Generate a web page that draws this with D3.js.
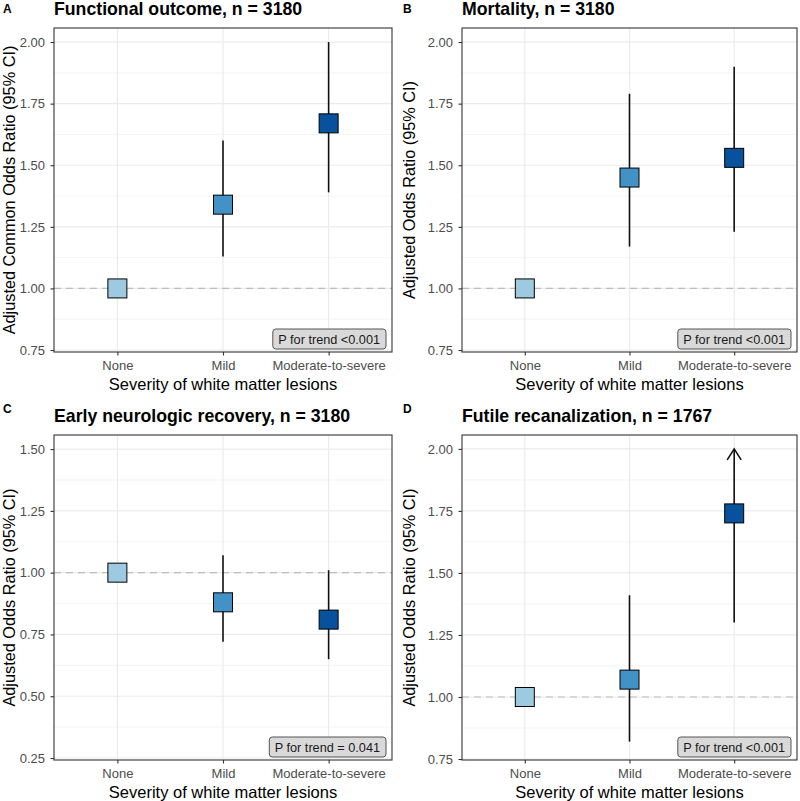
<!DOCTYPE html>
<html>
<head>
<meta charset="utf-8">
<script src="https://cdn.jsdelivr.net/npm/d3@7"></script>
<style>
  html, body { margin: 0; padding: 0; background: #fff; }
  svg { display: block; font-family: "Liberation Sans", Arial, Helvetica, sans-serif; }
</style>
</head>
<body>
<svg id="chart" width="800" height="801"></svg>
<script>
// ---------------- data ----------------
const categories = ["None", "Mild", "Moderate-to-severe"];
const panelLetters = ["A", "B", "C", "D"];
const panelTitles = [
  "Functional outcome, n = 3180",
  "Mortality, n = 3180",
  "Early neurologic recovery, n = 3180",
  "Futile recanalization, n = 1767"
];
const yTitles = [
  "Adjusted Common Odds Ratio (95% CI)",
  "Adjusted Odds Ratio (95% CI)",
  "Adjusted Odds Ratio (95% CI)",
  "Adjusted Odds Ratio (95% CI)"
];
const xTitle = "Severity of white matter lesions";
const trendLabels = ["P for trend <0.001", "P for trend <0.001", "P for trend = 0.041", "P for trend <0.001"];

const estA = [1.00, 1.34, 1.67];
const lowA = [null, 1.13, 1.39];
const highA = [null, 1.60, 2.00];

const estB = [1.00, 1.45, 1.53];
const lowB = [null, 1.17, 1.23];
const highB = [null, 1.79, 1.90];

const estC = [1.00, 0.88, 0.81];
const lowC = [null, 0.72, 0.65];
const highC = [null, 1.07, 1.01];

const estD = [1.00, 1.07, 1.74];
const lowD = [null, 0.82, 1.30];
const highD = [null, 1.41, 2.00];
const truncD = [false, false, true]; // upper CI beyond axis -> arrow

const ticksAB = ["0.75", "1.00", "1.25", "1.50", "1.75", "2.00"];
const ticksC = ["0.25", "0.50", "0.75", "1.00", "1.25", "1.50"];
const ticksD = ["0.75", "1.00", "1.25", "1.50", "1.75", "2.00"];

const domainAB = [0.742, 2.057];
const domainC = [0.242, 1.557];
const domainD = [0.746, 2.056];

const colors = ["#9ECAE1", "#4292C6", "#08519C"];

const panels = [
  { est: estA, low: lowA, high: highA, trunc: [false, false, false], ticks: ticksAB, domain: domainAB },
  { est: estB, low: lowB, high: highB, trunc: [false, false, false], ticks: ticksAB, domain: domainAB },
  { est: estC, low: lowC, high: highC, trunc: [false, false, false], ticks: ticksC, domain: domainC },
  { est: estD, low: lowD, high: highD, trunc: truncD, ticks: ticksD, domain: domainD }
];

// ---------------- layout ----------------
const boxes = [
  { x0: 54, x1: 392, y0: 28, y1: 352, cellX: 0, cellY: 0 },
  { x0: 462, x1: 797, y0: 28, y1: 352, cellX: 400, cellY: 0 },
  { x0: 54, x1: 392, y0: 435, y1: 760, cellX: 0, cellY: 400 },
  { x0: 462, x1: 797, y0: 435, y1: 760, cellX: 400, cellY: 400 }
];

const svg = d3.select("#chart");

panels.forEach((p, i) => {
  const b = boxes[i];
  const g = svg.append("g");

  const x = d3.scalePoint().domain(categories).range([b.x0, b.x1]).padding(0.6);
  const y = d3.scaleLinear().domain(p.domain).range([b.y1, b.y0]);
  const tickVals = p.ticks.map(Number);
  const minorVals = [];
  for (let k = 0; k < tickVals.length - 1; k++) minorVals.push((tickVals[k] + tickVals[k + 1]) / 2);

  // panel background
  g.append("rect").attr("x", b.x0).attr("y", b.y0).attr("width", b.x1 - b.x0).attr("height", b.y1 - b.y0)
    .attr("fill", "#fff");

  // minor grid
  g.selectAll(".minor").data(minorVals).enter().append("line")
    .attr("x1", b.x0).attr("x2", b.x1)
    .attr("y1", d => y(d)).attr("y2", d => y(d))
    .attr("stroke", "#EFEFEF").attr("stroke-width", 0.7);
  // major grid y
  g.selectAll(".majory").data(tickVals).enter().append("line")
    .attr("x1", b.x0).attr("x2", b.x1)
    .attr("y1", d => y(d)).attr("y2", d => y(d))
    .attr("stroke", "#EBEBEB").attr("stroke-width", 1.2);
  // major grid x
  g.selectAll(".majorx").data(categories).enter().append("line")
    .attr("x1", d => x(d)).attr("x2", d => x(d))
    .attr("y1", b.y0).attr("y2", b.y1)
    .attr("stroke", "#EBEBEB").attr("stroke-width", 1.2);

  // reference line at 1
  g.append("line")
    .attr("x1", b.x0).attr("x2", b.x1)
    .attr("y1", y(1)).attr("y2", y(1))
    .attr("stroke", "#BDBDBD").attr("stroke-width", 1.2)
    .attr("stroke-dasharray", "7,5");

  // error bars
  categories.forEach((c, j) => {
    if (p.low[j] == null) return;
    g.append("line")
      .attr("x1", x(c)).attr("x2", x(c))
      .attr("y1", y(p.low[j])).attr("y2", y(p.high[j]))
      .attr("stroke", "#111").attr("stroke-width", 1.6);
    if (p.trunc[j]) {
      const tx = x(c), ty = y(p.high[j]);
      g.append("path")
        .attr("d", `M${tx - 7},${ty + 11} L${tx},${ty} L${tx + 7},${ty + 11}`)
        .attr("fill", "none").attr("stroke", "#111").attr("stroke-width", 1.6);
    }
  });

  // squares
  const s = 19;
  g.selectAll(".pt").data(categories).enter().append("rect")
    .attr("x", d => x(d) - s / 2)
    .attr("y", (d, j) => y(p.est[j]) - s / 2)
    .attr("width", s).attr("height", s)
    .attr("fill", (d, j) => colors[j])
    .attr("stroke", "#000").attr("stroke-width", 1);

  // trend label
  const lbl = g.append("g");
  const t = lbl.append("text")
    .attr("font-size", 12.7).attr("fill", "#1a1a1a")
    .attr("text-anchor", "end")
    .attr("x", b.x1 - 12).attr("y", b.y1 - 7.7)
    .text(trendLabels[i]);
  const bb = t.node().getBBox();
  lbl.insert("rect", "text")
    .attr("x", bb.x - 5.5).attr("y", b.y1 - 23)
    .attr("width", bb.width + 11.5).attr("height", 20)
    .attr("rx", 3).attr("ry", 3)
    .attr("fill", "#D9D9D9").attr("stroke", "#555").attr("stroke-width", 1);

  // border
  g.append("rect").attr("x", b.x0).attr("y", b.y0).attr("width", b.x1 - b.x0).attr("height", b.y1 - b.y0)
    .attr("fill", "none").attr("stroke", "#333").attr("stroke-width", 1.1);

  // y axis
  const yAxis = d3.axisLeft(y).tickValues(tickVals).tickFormat((d, k) => p.ticks[k]).tickSize(3.5).tickPadding(5.5);
  const ya = g.append("g").attr("transform", `translate(${b.x0},0)`).call(yAxis);
  ya.select(".domain").remove();
  ya.selectAll(".tick line").attr("stroke", "#333").attr("stroke-width", 1.1);
  ya.selectAll(".tick text").attr("fill", "#4D4D4D").attr("font-size", 13)
    .attr("font-family", "Liberation Sans, Arial, sans-serif");

  // x axis
  const xAxis = d3.axisBottom(x).tickSize(3.5).tickPadding(5.5);
  const xa = g.append("g").attr("transform", `translate(0,${b.y1})`).call(xAxis);
  xa.select(".domain").remove();
  xa.selectAll(".tick line").attr("stroke", "#333").attr("stroke-width", 1.1);
  xa.selectAll(".tick text").attr("fill", "#4D4D4D").attr("font-size", 13)
    .attr("font-family", "Liberation Sans, Arial, sans-serif");

  // axis titles
  g.append("text")
    .attr("x", (b.x0 + b.x1) / 2).attr("y", b.y1 + 37.5)
    .attr("text-anchor", "middle").attr("font-size", 16.5).attr("fill", "#000")
    .text(xTitle);
  g.append("text")
    .attr("transform", `translate(${b.cellX + 14.5},${(b.y0 + b.y1) / 2}) rotate(-90)`)
    .attr("text-anchor", "middle").attr("font-size", 16.3).attr("fill", "#000")
    .text(yTitles[i]);

  // title
  g.append("text")
    .attr("x", b.x0).attr("y", b.y0 - 13)
    .attr("font-size", 17.7).attr("font-weight", "bold").attr("fill", "#000")
    .text(panelTitles[i]);

  // panel letter
  g.append("text")
    .attr("x", b.cellX + 3).attr("y", b.cellY + 12.5)
    .attr("font-size", 12).attr("font-weight", "bold").attr("fill", "#000")
    .text(panelLetters[i]);
});
</script>
</body>
</html>
